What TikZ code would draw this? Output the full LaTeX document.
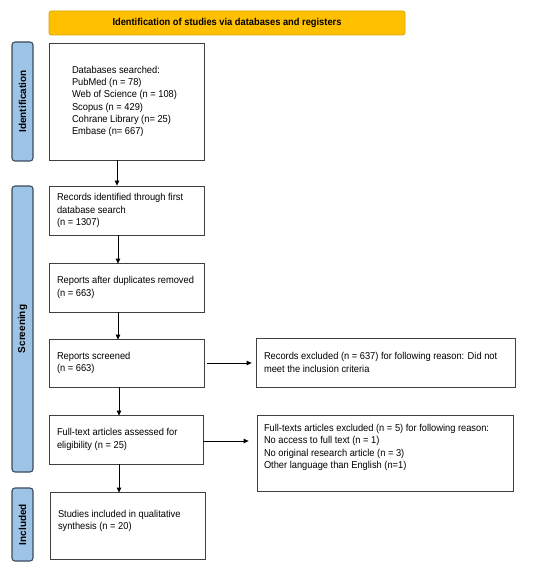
\documentclass[tikz,border=0pt]{standalone}
\usepackage{fontspec}
\setmainfont{Liberation Sans}
\newfontfamily\narrowfont[FakeStretch=0.93]{Liberation Sans}
\usetikzlibrary{arrows.meta,calc}
\definecolor{hdrfill}{HTML}{FFC000}
\definecolor{hdrdraw}{HTML}{D9A400}
\definecolor{sidefill}{HTML}{9DC3E6}
\definecolor{sidedraw}{HTML}{3A4A5C}
\definecolor{boxdraw}{HTML}{404040}
\newcommand\pb[5]{\parbox[c][#2pt][#3]{#1pt}{\raggedright\leftskip=#4pt\relax #5}}
\begin{document}
\begin{tikzpicture}[x=1pt,y=-1pt,
  hdr/.style={draw=hdrdraw,fill=hdrfill,line width=0.8pt,rounded corners=2.5pt,inner sep=0pt,
     font=\narrowfont\bfseries\fontsize{10}{12}\selectfont},
  side/.style={draw=sidedraw,fill=sidefill,line width=1.1pt,rounded corners=3pt,inner sep=0pt,
     minimum width=21pt,font=\bfseries\fontsize{10}{12}\selectfont},
  flowbox/.style={draw=boxdraw,fill=white,line width=0.8pt,inner sep=0pt,
     font=\narrowfont\fontsize{10}{12.3}\selectfont},
  arr/.style={draw=black,line width=0.8pt,-{Triangle[length=5pt,width=4.5pt]}}]
\useasboundingbox (0,0) rectangle (550,572);

\node[hdr,minimum width=356pt,minimum height=24pt] (head) at (227,23) {Identification of studies via databases and registers};

\node[side,minimum height=119pt] (sideI) at (22.5,101.5) {\rotatebox{90}{Identification}};
\node[side,minimum height=286pt] (sideS) at (22.5,329) {\rotatebox{90}{Screening}};
\node[side,minimum height=73pt] (sideInc) at (22.5,524.5) {\rotatebox{90}{Included}};

\node[flowbox] (b1) at (126.5,101.5) {\pb{155}{117}{c}{23}{Databases searched:\\PubMed (n = 78)\\Web of Science (n = 108)\\Scopus (n = 429)\\Cohrane Library (n= 25)\\Embase (n= 667)}};
\node[flowbox] (b2) at (126.5,210.5) {\pb{155}{49}{c}{8}{Records identified through first\\database search\\(n = 1307)}};
\node[flowbox] (b3) at (126.5,287.5) {\pb{155}{49}{c}{8}{Reports after duplicates removed\\(n = 663)}};
\node[flowbox] (b4) at (126.5,363) {\pb{155}{48}{c}{8}{Reports screened\\(n = 663)}};
\node[flowbox] (b5) at (126,439.5) {\pb{154}{49}{c}{8}{Full-text articles assessed for\\eligibility (n = 25)}};
\node[flowbox] (b6) at (127.5,525.5) {\pb{155}{67}{t}{8}{\vspace*{17pt}\strut Studies included in qualitative\\synthesis (n = 20)}};

\node[flowbox] (e1) at (385.5,362.5) {\pb{259}{49}{c}{8}{Records excluded (n = 637) for following reason: Did not\\meet the inclusion criteria}};
\node[flowbox] (e2) at (385,453) {\pb{256}{76}{t}{7}{\vspace*{8pt}\strut Full-texts articles excluded (n = 5) for following reason:\\No access to full text (n = 1)\\No original research article (n = 3)\\Other language than English (n=1)}};

\coordinate (ax1) at (117,0);
\coordinate (ax2) at (118,0);
\coordinate (ax3) at (119,0);
\draw[arr] (b1.south -| ax1) -- (b2.north -| ax1);
\draw[arr] (b2.south -| ax2) -- ([yshift=-1pt]b3.north -| ax2);
\draw[arr] (b3.south -| ax2) -- ([yshift=-1pt]b4.north -| ax2);
\draw[arr] (b4.south -| ax3) -- ([yshift=-1pt]b5.north -| ax3);
\draw[arr] (b5.south -| ax3) -- ([yshift=-1pt]b6.north -| ax3);
\draw[arr] ([xshift=3pt]b4.east) -- ([xshift=-4pt]e1.west |- b4.east);
\draw[arr] ([yshift=-1.5pt]b5.east) -- ([xshift=-8pt,yshift=-1.5pt]e2.west |- b5.east);
\end{tikzpicture}
\end{document}
